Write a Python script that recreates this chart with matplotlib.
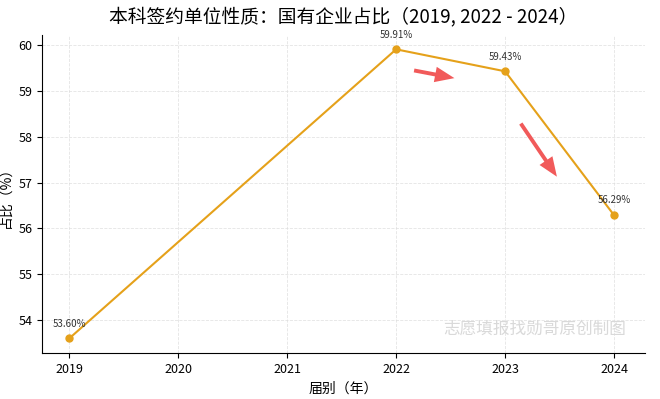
import matplotlib.pyplot as plt

plt.rcParams['font.family'] = ['Noto Sans CJK SC', 'DejaVu Sans']
plt.rcParams['axes.unicode_minus'] = False

# 数据
years = [2019, 2022, 2023, 2024]
ratios = [53.60, 59.91, 59.43, 56.29]
labels = ['53.60%', '59.91%', '59.43%', '56.29%']
xticks = [2019, 2020, 2021, 2022, 2023, 2024]
yticks = [54, 55, 56, 57, 58, 59, 60]

fig = plt.figure(figsize=(6.6, 3.99), dpi=100)
ax = fig.add_axes([0.0636, 0.115, 0.913, 0.797])

color = '#E5A11A'
ax.plot(years, ratios, color=color, linewidth=1.5, marker='o', markersize=5)
for x, y, t in zip(years, ratios, labels):
    ax.annotate(t, (x, y), xytext=(0, 7), textcoords='offset points',
                ha='center', va='bottom', fontsize=7, color='#333333')

# 趋势箭头
arrow_kw = dict(arrowstyle='simple,head_width=0.8,head_length=1.0,tail_width=0.2',
                mutation_scale=14, color='#F04848', alpha=0.9, lw=0)
ax.annotate('', xy=(2022.56, 59.27), xytext=(2022.14, 59.46), arrowprops=arrow_kw)
ax.annotate('', xy=(2023.49, 57.08), xytext=(2023.13, 58.34), arrowprops=arrow_kw)

ax.set_xlim(2018.75, 2024.28)
ax.set_ylim(53.28, 60.22)
ax.set_xticks(xticks)
ax.set_yticks(yticks)
ax.tick_params(labelsize=9)
ax.grid(True, linestyle='--', color='#dddddd', linewidth=0.6, alpha=0.8)
ax.spines['top'].set_visible(False)
ax.spines['right'].set_visible(False)

ax.set_title('本科签约单位性质：国有企业占比（2019, 2022 - 2024）', fontsize=13.5, pad=9)
ax.set_xlabel('届别（年）', fontsize=10)
ax.set_ylabel('占比（%）', fontsize=10)

ax.text(0.97, 0.05, '志愿填报找勋哥原创制图', transform=ax.transAxes,
        ha='right', va='bottom', fontsize=12, color='#d9d9d9')

plt.savefig('out.png', dpi=100)
